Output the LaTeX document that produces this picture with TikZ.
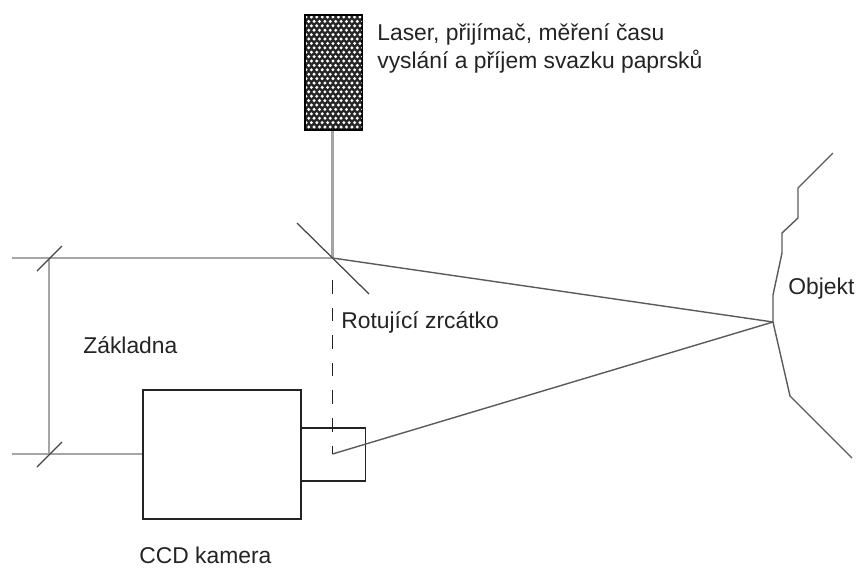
\documentclass[tikz,border=0pt]{standalone}
\usepackage{fontspec}
\setmainfont{Liberation Sans}
\definecolor{ink}{RGB}{35,35,35}
\definecolor{ray}{RGB}{165,165,165}
\usetikzlibrary{positioning,calc}
\tikzset{
  body/.style={draw=ink, line width=0.3mm, fill=white, inner sep=0pt},
  ray/.style={draw=ray, line width=0.45mm},
  thin ray/.style={draw=ink!75, line width=0.28mm},
  tick/.style={draw=ink!85, line width=0.25mm},
  label/.style={text=ink, font=\fontsize{13pt}{16.3pt}\selectfont, inner sep=0pt, align=left, anchor=base west},
}
\begin{document}
\begin{tikzpicture}[x=0.2mm, y=-0.2mm]
        \useasboundingbox (0,0) rectangle (862,569);
        % ===================== points =====================
        \coordinate (mirror) at (332.5,258);
        \coordinate (focus) at (332.5,454);
        \coordinate (spot) at (773,322);
        \coordinate (baseTop) at (49,258);
        \coordinate (baseBot) at (49,454);
        % ===================== rays =====================
        \draw[ray] (12,258) -- (mirror);
        \draw[ray] (baseTop) -- (baseBot);
        \draw[ray, line width=0.3mm] (12,454) -- (143,454);
        \draw[ray] (332.5,130) -- (mirror);
        \draw[tick] (37,271) -- (62,246);
        \draw[tick] (37,467) -- (62,442);
        \draw[tick] (297,223) -- (369,294);
        % ===================== camera =====================
        \node[body, minimum width=31.6mm, minimum height=25.8mm] (camera) at (222,454.5) {};
        \node[body, minimum width=12.9mm, minimum height=10.6mm, anchor=west, xshift=-0.3mm] (lens) at (camera.east |- 0,454.5) {};
        \draw[thin ray] (mirror) -- (spot);
        \draw[thin ray] (focus) -- (spot);
        \draw[draw=ink, line width=0.3mm, dash pattern=on 2.7mm off 2.82mm] (332.5,280) -- (focus);
        % ===================== laser =====================
        \node[draw=black, line width=0.3mm, fill=black!85, minimum width=11.2mm, minimum height=22.8mm, inner sep=0pt] (laser) at (333.5,72.5) {};
        \begin{scope}
          \clip (laser.south west) rectangle (laser.north east);
          \foreach \row in {0,...,26} {
            \foreach \col in {0,...,11} {
              \fill[white] ({306+\col*5.4+mod(\row,2)*2.7},{17+\row*4.4}) circle (0.33mm);
            }
          }
        \end{scope}
        \draw[black, line width=0.3mm] (laser.south west) rectangle (laser.north east);
        % ===================== object =====================
        \draw[thin ray] (833,153) -- (798,188) -- (798,218) -- (782,233) -- (782,253) -- (773,295) -- (spot) -- (790,396) -- (852,458);
        % ===================== labels =====================
        \node[label, anchor=west] (laserText) at (377,48.5) {Laser, přijímač, měření času\\vyslání a příjem svazku paprsků};
        \node[label] (mirrorText) at (341,328) {Rotující zrcátko};
        \node[label] (baseText) at (83,353) {Základna};
        \node[label] (objectText) at (788,294) {Objekt};
        \node[label] (cameraText) at (139,563) {CCD kamera};
\end{tikzpicture}
\end{document}
